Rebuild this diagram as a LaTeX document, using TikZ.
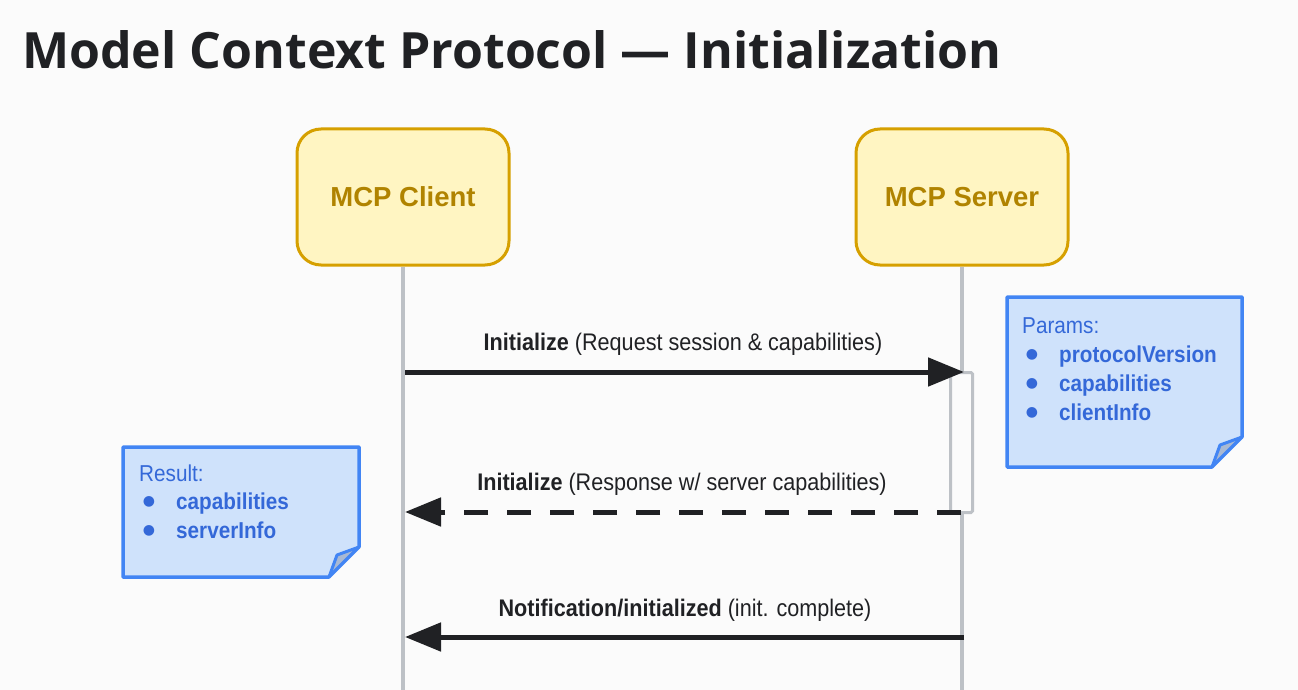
\documentclass[tikz,border=0pt]{standalone}
\usepackage{fontspec}
\setmainfont{Liberation Sans}
\newfontfamily\titlefont{Open Sans}
\newfontfamily\condfont{Liberation Sans}[FakeStretch=0.9]
\newfontfamily\symfont{DejaVu Sans}
\usetikzlibrary{arrows.meta}
\definecolor{bgcol}{HTML}{FBFBFB}
\definecolor{ink}{HTML}{202124}
\definecolor{lifeline}{HTML}{BDC1C6}
\definecolor{actorfill}{HTML}{FFF5C2}
\definecolor{actoredge}{HTML}{D6A000}
\definecolor{actortext}{HTML}{B08300}
\definecolor{notefill}{HTML}{CFE2FB}
\definecolor{noteedge}{HTML}{4285F4}
\definecolor{notetext}{HTML}{3468D8}
\definecolor{foldfill}{HTML}{A9B9D3}
\tikzset{
  x=1pt, y=-1pt,
  actor/.style={draw=actoredge, line width=3pt, fill=actorfill, rounded corners=24pt,
    minimum width=212pt, minimum height=136pt, text=actortext,
    font=\fontsize{27.5}{32}\selectfont\bfseries},
  lifelinestyle/.style={draw=lifeline, line width=3.5pt},
  msg/.style={draw=ink, line width=5pt, -{Triangle[length=36pt,width=28pt]}},
  msgdash/.style={msg, dash pattern=on 24pt off 19pt},
  msglabel/.style={text=ink, font=\condfont\fontsize{24}{28}\selectfont, anchor=base},
  notetxt/.style={text=notetext, anchor=base west, inner sep=0pt,
    font=\condfont\fontsize{23}{29}\selectfont},
  notebullet/.style={text=notetext, inner sep=0pt, anchor=center,
    font=\symfont\fontsize{14}{14}\selectfont},
}
\newcommand{\notebox}[4]{% x1,y1,x2,y2 : sticky note with folded lower-right corner
  \fill[notefill] (#1,#2) -- (#3,#2) -- (#3,#4-30) -- (#3-30,#4) -- (#1,#4) -- cycle;
  \fill[foldfill] (#3,#4-30) -- (#3-22,#4-22) -- (#3-30,#4) -- cycle;
  \draw[noteedge, line width=3pt, line join=round] (#3,#4-30) -- (#3-22,#4-22) -- (#3-30,#4);
  \draw[noteedge, line width=3.5pt, line join=round] (#1,#2) -- (#3,#2) -- (#3,#4-30) -- (#3-30,#4) -- (#1,#4) -- cycle;
}
\begin{document}
\begin{tikzpicture}
\fill[bgcol] (0,0) rectangle (1298,690);
\useasboundingbox (0,0) rectangle (1298,690);

% title
\node[anchor=base west, inner sep=0pt, text=ink,
  font=\titlefont\fontsize{50}{55}\selectfont\bfseries] (title) at (22,69)
  {Model Context Protocol — Initialization};

% participants
\node[actor] (client) at (403,197) {MCP Client};
\node[actor] (server) at (962,197) {MCP Server};

\coordinate (clientEnd) at (403,692);
\coordinate (serverEnd) at (962,692);
\draw[lifelinestyle] (client.south) -- (clientEnd);
\draw[lifelinestyle] (server.south) -- (serverEnd);

% activation bar on the server
\node[draw=lifeline, line width=3pt, fill=bgcol, minimum width=22pt, minimum height=140pt,
  inner sep=0pt, rounded corners=1.5pt] (act) at (961.5,442.5) {};

% message anchors on the lifelines
\coordinate (c1) at (405,372);
\coordinate (s1) at (964,372);
\coordinate (c2) at (405,512);
\coordinate (s2) at (961,512);
\coordinate (c3) at (405,637);
\coordinate (s3) at (964,637);

\draw[msg] (c1) -- (s1);
\draw[msgdash] (s2) -- (c2);
\draw[msg] (s3) -- (c3);

\node[msglabel] (l1) at (683,350) {\textbf{Initialize} (Request session \& capabilities)};
\node[msglabel] (l2) at (682,490) {\textbf{Initialize} (Response w/ server capabilities)};
\node[msglabel] (l3) at (685,616) {\textbf{Notification/initialized} (init. complete)};

% request parameters note
\notebox{1007}{297}{1242}{467}
\node[notetxt] (pHead) at (1022,333) {Params:};
\node[notebullet] (pb1) at (1032,355) {●};
\node[notebullet] (pb2) at (1032,384) {●};
\node[notebullet] (pb3) at (1032,413) {●};
\node[notetxt] (p1) at (1059,362) {\textbf{protocolVersion}};
\node[notetxt] (p2) at (1059,391) {\textbf{capabilities}};
\node[notetxt] (p3) at (1059,420) {\textbf{clientInfo}};

% response result note
\notebox{123}{447}{359}{577}
\node[notetxt] (rHead) at (139,481) {Result:};
\node[notebullet] (rb1) at (149,502) {●};
\node[notebullet] (rb2) at (149,531) {●};
\node[notetxt] (r1) at (176,509) {\textbf{capabilities}};
\node[notetxt] (r2) at (176,538) {\textbf{serverInfo}};
\end{tikzpicture}
\end{document}
